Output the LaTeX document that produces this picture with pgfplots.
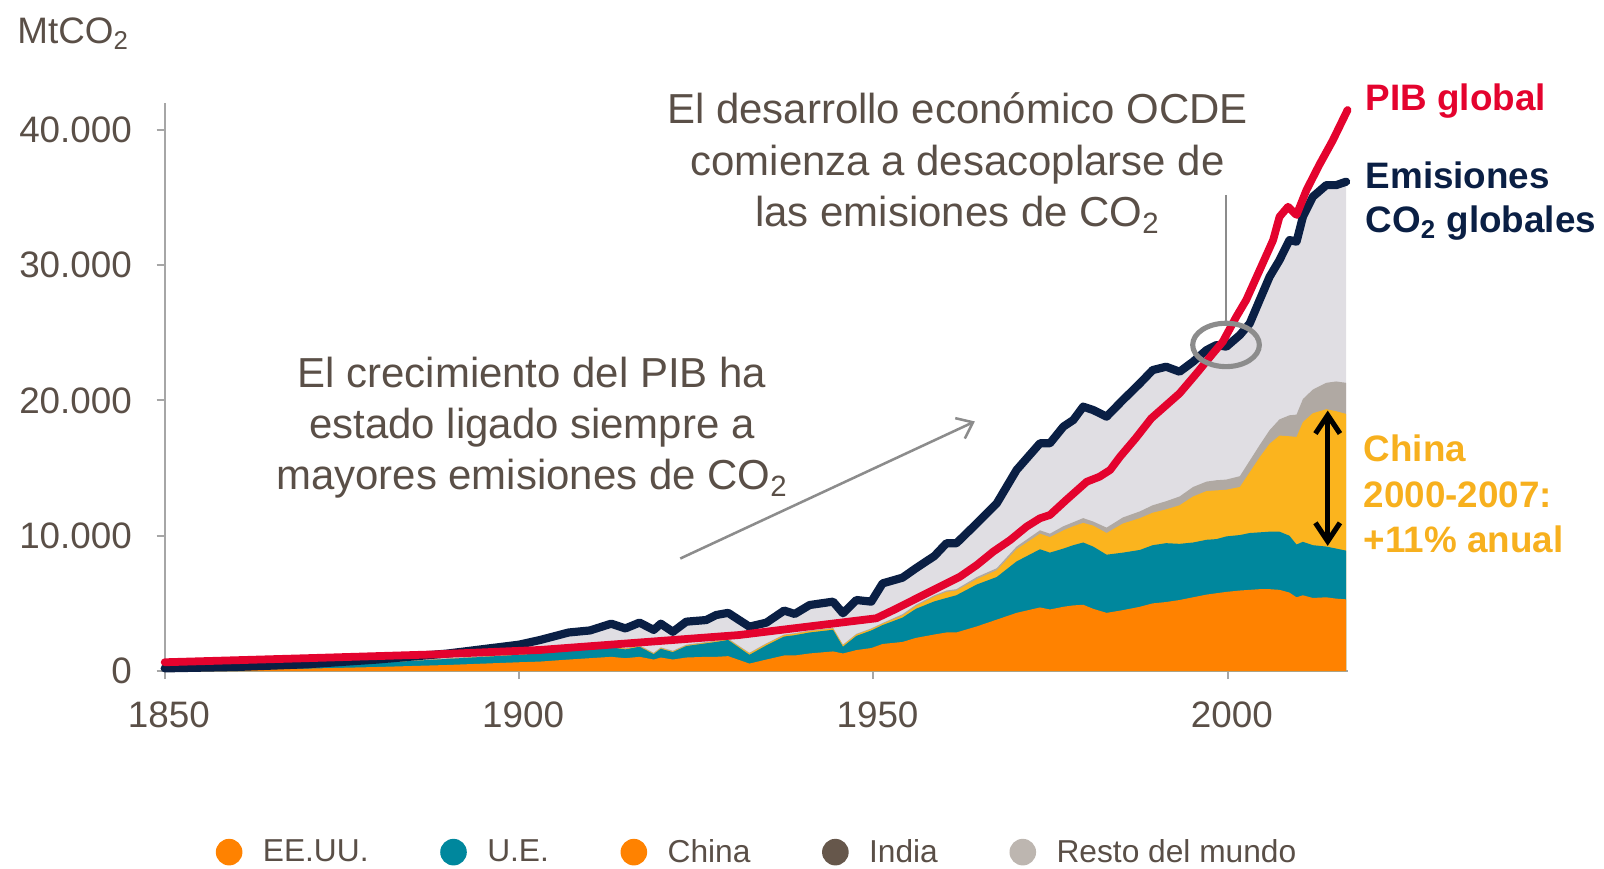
\documentclass[border=0pt]{standalone}
\usepackage{fontspec}
\setmainfont{Liberation Sans}
\usepackage{pgfplots}
\pgfplotsset{compat=1.18}
\usepackage{pgfplotstable}
\usetikzlibrary{arrows.meta}

\definecolor{usor}{HTML}{FF8200}
\definecolor{euteal}{HTML}{00879D}
\definecolor{cnamber}{HTML}{FBB41E}
\definecolor{inarea}{HTML}{B0A9A3}
\definecolor{restarea}{HTML}{E0DEE3}
\definecolor{navy}{HTML}{0A1F44}
\definecolor{pibred}{HTML}{E4032E}
\definecolor{txt}{HTML}{5A4F47}
\definecolor{indleg}{HTML}{66574B}
\definecolor{restleg}{HTML}{BDB6B0}
\definecolor{axgray}{HTML}{A6A6A6}
\definecolor{anngray}{HTML}{8C8C8C}
\definecolor{chinatxt}{HTML}{F7B01E}

% cumulative tops of the stacked areas (MtCO2)
\pgfplotstableread{
year us eu cn ind tot
1850 50 150 150 160 200
1860 100 250 250 260 300
1870 180 400 400 420 500
1880 300 600 600 630 850
1890 450 900 900 950 1300
1900 650 1200 1220 1280 1950
1903 700 1310 1350 1400 2300
1907 850 1550 1600 1650 2850
1910 950 1650 1700 1750 3000
1913 1050 1750 1800 1850 3500
1915 950 1600 1650 1700 3150
1917 1050 1800 1850 1900 3580
1919 850 1250 1300 1350 3040
1920 1000 1650 1700 1750 3500
1921.7 850 1400 1450 1500 2900
1923.6 1000 1850 1900 1950 3650
1926.4 1050 2050 2100 2150 3770
1927.8 1050 2150 2200 2250 4140
1929.5 1100 2300 2350 2400 4300
1932.5 550 1200 1300 1350 3280
1934.9 850 1900 2000 2050 3580
1937.4 1150 2550 2650 2700 4470
1938.9 1150 2650 2750 2800 4220
1941 1300 2850 2950 3000 4880
1944.3 1450 3050 3150 3200 5130
1945.7 1300 1800 1900 1950 4270
1947.6 1550 2600 2700 2750 5250
1949.7 1700 3000 3100 3150 5130
1951.3 2000 3400 3500 3550 6480
1954.1 2150 3950 4100 4200 6900
1956 2450 4600 4800 4900 7600
1958.6 2700 5150 5500 5600 8500
1960.3 2850 5400 5850 5950 9440
1961.7 2850 5600 5950 6050 9440
1964.6 3300 6400 6800 6950 10920
1967.4 3800 6950 7450 7600 12390
1970.2 4300 8100 9000 9200 14860
1973.5 4700 9000 10150 10400 16830
1974.9 4550 8750 9900 10150 16830
1976.8 4750 9050 10400 10700 18060
1978.2 4850 9300 10700 11000 18550
1979.6 4900 9500 10950 11300 19540
1981 4600 9200 10750 11050 19290
1982.9 4300 8600 10200 10600 18800
1985.2 4500 8750 10900 11350 20030
1987.6 4750 8950 11300 11800 21260
1989.4 5000 9300 11700 12250 22240
1991.3 5100 9450 11950 12550 22490
1993.2 5250 9400 12250 12900 22120
1995.1 5450 9500 12900 13600 22860
1997 5650 9700 13300 14000 23720
1998.4 5750 9750 13350 14100 24090
1999.8 5850 9950 13400 14150 23970
2001.7 5950 10050 13600 14400 24830
2003.1 6000 10200 14700 15550 25690
2004.5 6050 10250 15800 16700 27420
2005.9 6050 10300 16800 17800 29140
2007.3 6000 10300 17400 18600 30370
2008.7 5800 10000 17350 18900 31850
2009.7 5450 9350 17300 18950 31730
2010.6 5600 9550 18400 20100 33570
2012 5400 9300 19050 20800 35050
2013.9 5450 9200 19350 21300 35910
2015.3 5350 9050 19200 21400 35910
2016.7 5300 8900 19000 21300 36160
}\emis

\pgfplotstableread{
year gdp
1850 650
1870 950
1888 1230
1903 1560
1931 2660
1950.4 3900
1952.8 4500
1957.5 5740
1962.2 6970
1964.6 7840
1966.9 8820
1969.3 9680
1971.6 10670
1973.5 11290
1974.9 11530
1977.2 12640
1980.1 13990
1981.9 14360
1983.4 14860
1984.8 15840
1987 17200
1989.2 18670
1993.2 20520
1995.6 22000
1997.9 23470
1999.3 24340
2001.2 26180
2002.6 27420
2004.5 29630
2006.4 31850
2007.3 33570
2008.5 34310
2009.7 33700
2011.1 35540
2012.9 37390
2014.8 39200
2016.9 41460
}\pib

\begin{document}
\begin{tikzpicture}
\path[use as bounding box] (-80.5pt,-96.5pt) rectangle (703.5pt,328pt);
\begin{axis}[
  scale only axis, width=578.5pt, height=277.8pt,
  xmin=1850, xmax=2017, ymin=0, ymax=42000,
  axis x line=bottom, axis y line=left,
  axis line style={axgray, line width=1pt, -},
  xtick={1850,1900,1950,2000}, ytick={0,10000,20000,30000,40000},
  tick style={axgray, line width=1pt}, tick align=outside, major tick length=4pt,
  ticklabel style={font=\fontsize{18}{21}\selectfont, text=txt},
  /pgf/number format/assume math mode=true,
  scaled y ticks=false,
  yticklabel style={xshift=-8.5pt, /pgf/number format/.cd, 1000 sep={.}},
  xticklabel style={yshift=-7.5pt, xshift=2pt, /pgf/number format/.cd, 1000 sep={}},
  clip=false,
  legend columns=5,
  legend cell align=left,
  legend image code/.code={\path[#1, draw=none] (6.5pt,0pt) circle (6.5pt);},
  legend style={draw=none, fill=none, at={(0.0432,-0.3186)}, anchor=west,
    inner sep=0pt, outer sep=0pt, font=\fontsize{15.5}{18}\selectfont, text=txt,
    nodes={inner sep=0pt},
    /tikz/every odd column/.append style={column sep=10pt},
    /tikz/every even column/.append style={column sep=35pt}},
]
\addlegendimage{fill=usor, draw=none}\addlegendentry{EE.UU.}
\addlegendimage{fill=euteal, draw=none}\addlegendentry{U.E.}
\addlegendimage{fill=usor, draw=none}\addlegendentry{China}
\addlegendimage{fill=indleg, draw=none}\addlegendentry{India}
\addlegendimage{fill=restleg, draw=none}\addlegendentry{Resto del mundo}

\addplot[draw=none, fill=restarea, forget plot] table[x=year,y=tot]{\emis} \closedcycle;
\addplot[draw=none, fill=inarea, forget plot] table[x=year,y=ind]{\emis} \closedcycle;
\addplot[draw=none, fill=cnamber, forget plot] table[x=year,y=cn]{\emis} \closedcycle;
\addplot[draw=none, fill=euteal, forget plot] table[x=year,y=eu]{\emis} \closedcycle;
\addplot[draw=none, fill=usor, forget plot] table[x=year,y=us]{\emis} \closedcycle;
\addplot[navy, line width=4pt, line join=round, line cap=round, forget plot] table[x=year,y=tot]{\emis};
\addplot[pibred, line width=3.8pt, line join=round, line cap=round, forget plot] table[x=year,y=gdp]{\pib};

\draw[black, line width=2.5pt, {Straight Barb[length=9pt,width=12pt]}-{Straight Barb[length=9pt,width=12pt]}]
  (axis cs:2014.1,9250) -- (axis cs:2014.1,19250);
\end{axis}

% annotations
\node[anchor=base west, font=\fontsize{18}{21}\selectfont, text=txt] at (-75.5pt,306.5pt) {MtCO\textsubscript{2}};

\begin{scope}[every node/.style={anchor=base, font=\fontsize{20.5}{24}\selectfont, text=txt}]
\node at (387.5pt,267.6pt) {El desarrollo económico OCDE};
\node at (387.5pt,242.1pt) {comienza a desacoplarse de};
\node at (387.5pt,217.1pt) {las emisiones de CO\textsubscript{2}};
\node at (179.5pt,138.6pt) {El crecimiento del PIB ha};
\node at (179.5pt,113.6pt) {estado ligado siempre a};
\node at (179.5pt,88.6pt) {mayores emisiones de CO\textsubscript{2}};
\end{scope}

\draw[anngray, line width=1pt] (518.6pt,232.7pt) -- (518.6pt,170pt);
\draw[anngray, line width=2.5pt] (518.75pt,159.4pt) ellipse [x radius=16.3pt, y radius=10.6pt];
\draw[anngray, line width=1.25pt, -{Straight Barb[length=7pt,width=11pt]}] (252pt,55pt) -- (396pt,122pt);

\begin{scope}[every node/.style={anchor=base west, font=\bfseries\fontsize{18}{21}\selectfont}]
\node[text=pibred] at (583.5pt,274pt) {PIB global};
\node[text=navy] at (583.5pt,236pt) {Emisiones};
\node[text=navy] at (583.5pt,214.5pt) {CO\textsubscript{2} globales};
\node[text=chinatxt] at (582.5pt,102.5pt) {China};
\node[text=chinatxt] at (582.5pt,80pt) {2000-2007:};
\node[text=chinatxt] at (582.5pt,58pt) {+11\% anual};
\end{scope}
\end{tikzpicture}
\end{document}
